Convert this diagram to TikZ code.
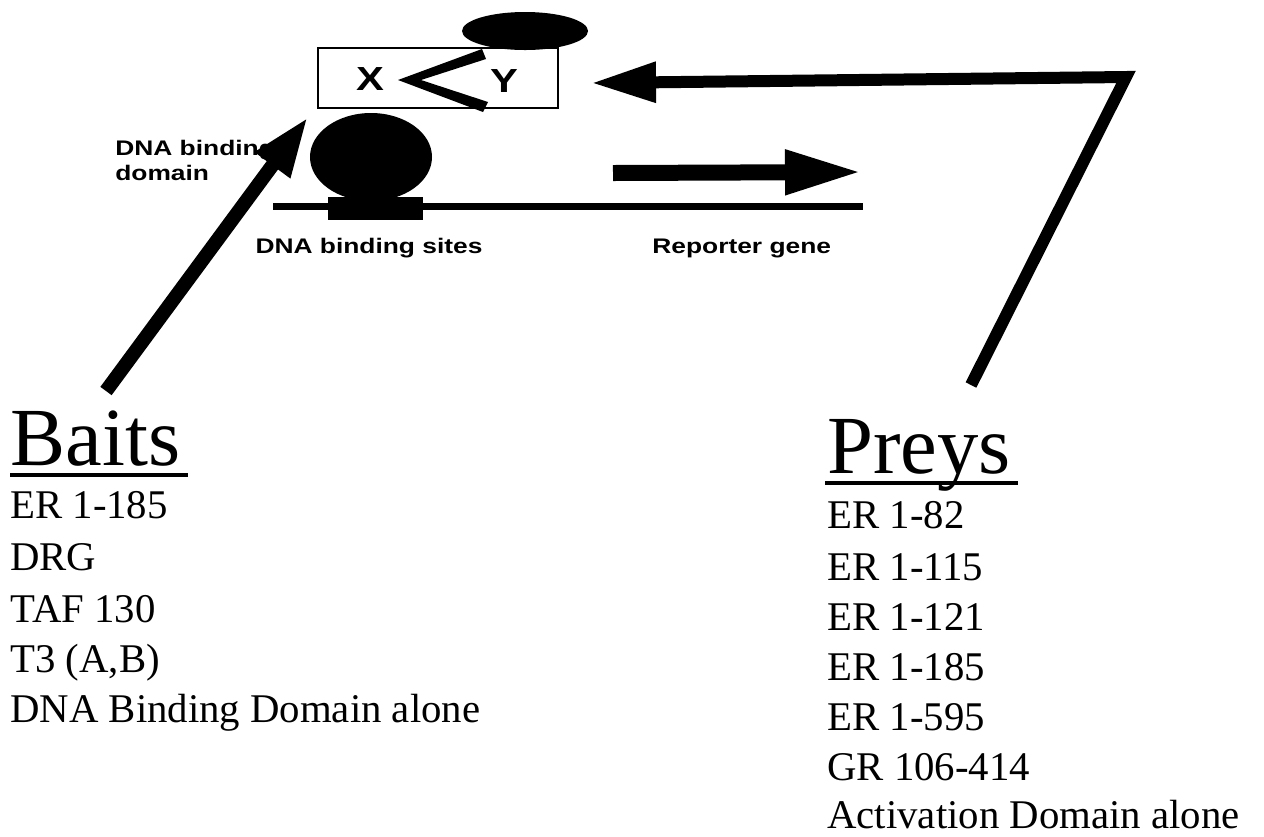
\documentclass[tikz,border=0pt]{standalone}
\usepackage{fontspec}
\setmainfont{Liberation Serif}
\newfontfamily\etiqueta[FakeStretch=1.25]{Liberation Sans}
\usetikzlibrary{arrows.meta,shapes.geometric}

\begin{document}
\begin{tikzpicture}[
    x=0.2mm,
    y=-0.2mm,
    titulo/.style={
        anchor=base west,
        inner sep=0pt,
        font=\fontsize{47}{50}\selectfont
    },
    item/.style={
        anchor=base west,
        inner sep=0pt,
        font=\fontsize{23.2}{28}\selectfont
    },
    rotulo/.style={
        inner sep=0pt,
        font=\etiqueta\bfseries\fontsize{12}{14.2}\selectfont
    },
    letra/.style={
        inner sep=0pt,
        font=\etiqueta\bfseries\fontsize{19}{21}\selectfont
    },
    subrayado/.style={line width=0.8mm},
    flecha/.style={line join=miter}
]
    \useasboundingbox (0,0) rectangle (1264,836);

    % esquema del doble hibrido
    \coordinate (adn-ini) at (273,206);
    \coordinate (adn-fin) at (863,206);
    \draw[line width=1.4mm] (adn-ini) -- (adn-fin);
    \node[draw=none, fill, inner sep=0pt, minimum width=19mm, minimum height=4.6mm]
        (sitios) at (375.5,208.5) {};
    \node[ellipse, fill, inner sep=0pt, minimum width=24.4mm, minimum height=17.6mm]
        (dominio) at (371,157) {};
    \node[draw, line width=0.45mm, inner sep=0pt, minimum width=48mm, minimum height=12mm]
        (caja) at (438,78) {};
    \node[ellipse, fill, inner sep=0pt, minimum width=25.2mm, minimum height=7.6mm]
        (activador) at (525,31) {};
    \fill (398,80) -- (482,49) -- (486,59) -- (421,80) -- (488,102) -- (483,112) -- cycle;
    \node[letra] (x) at (370,79) {X};
    \node[letra] (y) at (504,81) {Y};

    \node[rotulo, anchor=north west, align=left] (dbd) at (115,140) {DNA binding\\domain};
    \node[rotulo, anchor=base] (sitios-txt) at (369,253) {DNA binding sites};
    \node[rotulo, anchor=base west] (reportero) at (652,253) {Reporter gene};

    \coordinate (reportero-cola) at (613,173);
    \coordinate (reportero-punta) at (863,172);
    \draw[flecha, line width=3.2mm, -{Triangle[length=15.6mm,width=8.2mm]}]
        (reportero-cola) -- (reportero-punta);

    % cebos
    \node[titulo] (baits) at (10,465) {Baits};
    \draw[subrayado] ([yshift=-2mm]baits.base west) -- ([yshift=-2mm,xshift=1.6mm]baits.base east);
    \node[item] (b-er) at (10,518) {ER 1-185};
    \node[item] (b-drg) at (10,570) {DRG};
    \node[item] (b-taf) at (10,622) {TAF 130};
    \node[item] (b-t3) at (10,672) {T3 (A,B)};
    \node[item] (b-dbd) at (10,722) {DNA Binding Domain alone};

    \coordinate (baits-cola) at (106,391);
    \coordinate (dbd-punta) at (308,117);
    \draw[flecha, line width=2.8mm, -{Triangle[length=12mm,width=8mm]}]
        (baits-cola) -- (dbd-punta);

    % presas
    \node[titulo] (preys) at (827,473) {Preys};
    \draw[subrayado] ([yshift=-2mm,xshift=-0.4mm]preys.base west) -- ([yshift=-2mm,xshift=1.4mm]preys.base east);
    \node[item] (p-82) at (827,528) {ER 1-82};
    \node[item] (p-115) at (827,580) {ER 1-115};
    \node[item] (p-121) at (827,630) {ER 1-121};
    \node[item] (p-185) at (827,680) {ER 1-185};
    \node[item] (p-595) at (827,730) {ER 1-595};
    \node[item] (p-gr) at (827,780) {GR 106-414};
    \node[item] (p-ad) at (827,828) {Activation Domain alone};

    \coordinate (preys-cola) at (971,385);
    \coordinate (preys-codo) at (1126,77);
    \coordinate (caja-punta) at (591,83);
    \draw[flecha, line width=2.4mm, -{Triangle[length=13mm,width=7.6mm]}]
        (preys-cola) -- (preys-codo) -- (caja-punta);
\end{tikzpicture}
\end{document}
